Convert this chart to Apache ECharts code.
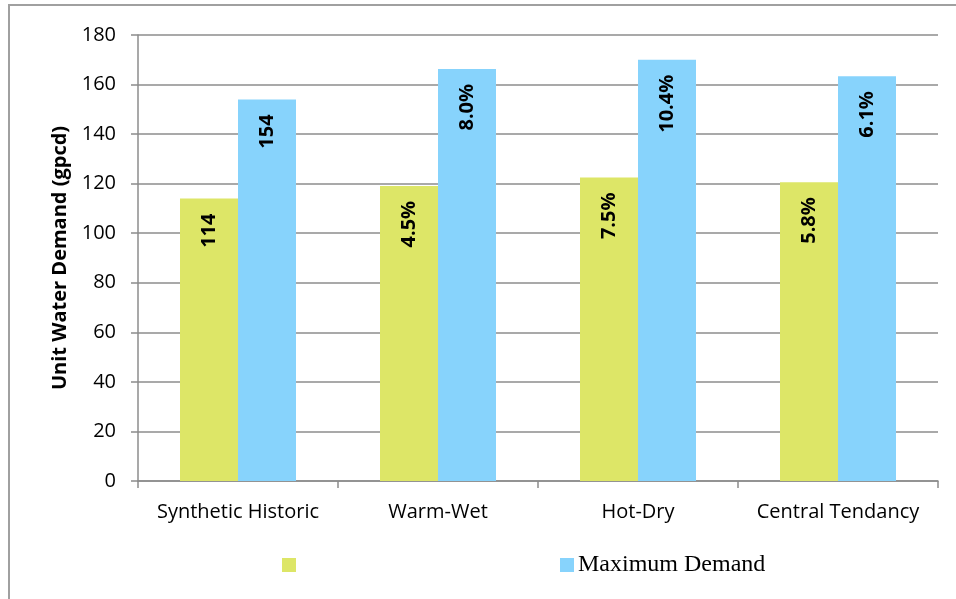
<!DOCTYPE html>
<html><head><meta charset="utf-8">
<script src="https://cdn.jsdelivr.net/npm/echarts@6/dist/echarts.min.js"></script>
<style>html,body{margin:0;padding:0;background:#fff}#c{width:956px;height:599px}</style>
</head><body><div id="c"></div>
<script>
var categories = ['Synthetic Historic', 'Warm-Wet', 'Hot-Dry', 'Central Tendancy'];
var seriesNames = ['Synthetic Historic Demand', 'Maximum Demand'];
var baseValues = [114, 119.1, 122.5, 120.6];
var maxValues = [154, 166.3, 170.0, 163.4];
var baseLabels = ['114', '4.5%', '7.5%', '5.8%'];
var maxLabels = ['154', '8.0%', '10.4%', '6.1%'];
var yTicks = [0, 20, 40, 60, 80, 100, 120, 140, 160, 180];

var chart = echarts.init(document.getElementById('c'), null, {renderer: 'canvas'});
var tickFont = 'Open Sans';
function lbl(arr) {
  return {
    show: true, position: 'insideTop', distance: 15, rotate: 90,
    align: 'right', verticalAlign: 'middle',
    fontFamily: 'Open Sans', fontWeight: 'bold', fontSize: 20, color: '#000',
    formatter: function (p) { return arr[p.dataIndex]; }
  };
}
chart.setOption({
  animation: false,
  graphic: [{
    type: 'rect', shape: {x: 9, y: 5, width: 1000, height: 700},
    style: {fill: 'none', stroke: '#a0a0a0', lineWidth: 2}, silent: true
  }],
  grid: {left: 138, right: 18, top: 35, bottom: 118, containLabel: false},
  legend: [{
    left: 282, top: 558, padding: 0, itemWidth: 14, itemHeight: 14, itemGap: 0,
    icon: 'rect', data: [seriesNames[0]],
    formatter: function () { return ''; },
    textStyle: {fontFamily: 'Liberation Serif', fontSize: 23, color: '#000'}
  }, {
    left: 560, top: 553, padding: 0, itemWidth: 14, itemHeight: 14,
    icon: 'rect', data: [seriesNames[1]], itemGap: 0,
    textStyle: {fontFamily: 'Liberation Serif', fontSize: 24, color: '#000', padding: [0, 0, 8, -1]}
  }],
  xAxis: {
    type: 'category', data: categories,
    axisLine: {lineStyle: {color: '#8c8c8c', width: 1.5}},
    axisTick: {show: true, length: 7, lineStyle: {color: '#8c8c8c', width: 1.5}},
    axisLabel: {fontFamily: tickFont, fontSize: 20, color: '#000', margin: 21, interval: 0}
  },
  yAxis: {
    type: 'value', min: yTicks[0], max: yTicks[yTicks.length - 1], interval: 20,
    name: 'Unit Water Demand (gpcd)', nameLocation: 'middle', nameGap: 68,
    nameTextStyle: {fontFamily: 'Open Sans', fontWeight: 'bold', fontSize: 20, color: '#000'},
    axisLine: {show: true, lineStyle: {color: '#8c8c8c', width: 1.5}},
    axisTick: {show: true, length: 7, lineStyle: {color: '#8c8c8c', width: 1.5}},
    splitLine: {lineStyle: {color: '#8c8c8c', width: 1.5}},
    axisLabel: {fontFamily: tickFont, fontSize: 20, color: '#000', margin: 22}
  },
  series: [{
    name: seriesNames[0], type: 'bar', data: baseValues, barWidth: 58, barGap: '0%',
    itemStyle: {color: '#dde667'}, label: lbl(baseLabels)
  }, {
    name: seriesNames[1], type: 'bar', data: maxValues, barWidth: 58, barGap: '0%',
    itemStyle: {color: '#87d3fc'}, label: lbl(maxLabels)
  }]
});
</script></body></html>
